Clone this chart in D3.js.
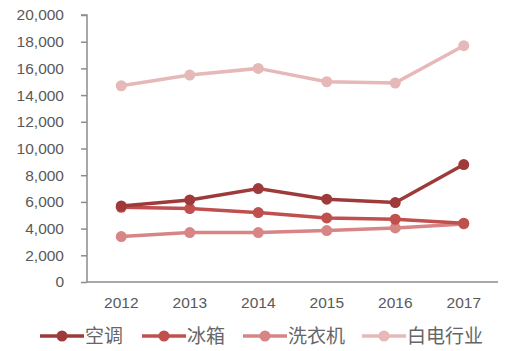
<!DOCTYPE html>
<html>
<head>
<meta charset="utf-8">
<style>
  body { margin: 0; background: #fff; }
  svg { display: block; font-family: "DejaVu Sans", sans-serif; }
  .axis text { fill: #595959; font-size: 15.5px; }
  .axis path, .axis line { stroke: #8c8c8c; stroke-width: 1.5; }
  .legend text { fill: #666; font-size: 19px; font-family: "Noto Sans CJK SC", sans-serif; }
</style>
</head>
<body>
<svg width="520" height="351"></svg>
<script src="https://d3js.org/d3.v7.min.js"></script>
<script>
const years = ["2012", "2013", "2014", "2015", "2016", "2017"];
const seriesNames = ["空调", "冰箱", "洗衣机", "白电行业"];
const airCon = [5700, 6150, 7000, 6200, 5950, 8800];
const fridge = [5600, 5500, 5200, 4800, 4700, 4400];
const washer = [3400, 3700, 3700, 3850, 4050, 4350];
const whiteGoods = [14700, 15500, 16000, 15000, 14900, 17700];
const yTicks = [0, 2000, 4000, 6000, 8000, 10000, 12000, 14000, 16000, 18000, 20000];
const colors = ["#9e3a3a", "#c0504d", "#d78585", "#e6b8b7"];

const allValues = [airCon, fridge, washer, whiteGoods];
const svg = d3.select("svg");
const margin = { top: 15, right: 22, bottom: 69, left: 87 };
const width = 520, height = 351;

const x = d3.scaleBand().domain(years).range([margin.left, width - margin.right]);
const y = d3.scaleLinear().domain([0, 20000]).range([height - margin.bottom, margin.top]);

svg.append("g")
  .attr("class", "axis")
  .attr("transform", `translate(${margin.left},0)`)
  .call(d3.axisLeft(y).tickValues(yTicks).tickSize(6).tickPadding(17).tickFormat(d3.format(",")))
  .call(g => g.select(".domain").attr("d", `M-6,${y(20000)}H0V${y(0)}`));

svg.append("g")
  .attr("class", "axis")
  .attr("transform", `translate(0,${y(0)})`)
  .call(d3.axisBottom(x).tickSize(0).tickPadding(15))
  .call(g => g.select(".domain").attr("d", `M${margin.left},0H${width - margin.right}`));

const line = d3.line()
  .x((d, i) => x(years[i]) + x.bandwidth() / 2)
  .y(d => y(d));

// draw lighter series first so darker ones sit on top
[3, 2, 1, 0].forEach(k => {
  const g = svg.append("g");
  g.append("path")
    .datum(allValues[k])
    .attr("fill", "none")
    .attr("stroke", colors[k])
    .attr("stroke-width", 3.5)
    .attr("d", line);
  g.selectAll("circle")
    .data(allValues[k])
    .join("circle")
    .attr("cx", (d, i) => x(years[i]) + x.bandwidth() / 2)
    .attr("cy", d => y(d))
    .attr("r", 5.5)
    .attr("fill", colors[k]);
});

// legend
const legendX = [40, 142, 243, 362];
const legend = svg.append("g").attr("class", "legend");
seriesNames.forEach((name, k) => {
  const lx = legendX[k], ly = 336;
  legend.append("line")
    .attr("x1", lx).attr("x2", lx + 44)
    .attr("y1", ly).attr("y2", ly)
    .attr("stroke", colors[k]).attr("stroke-width", 3.5);
  legend.append("circle")
    .attr("cx", lx + 22).attr("cy", ly).attr("r", 5.5)
    .attr("fill", colors[k]);
  legend.append("text")
    .attr("x", lx + 45).attr("y", ly + 7)
    .text(name);
});
</script>
</body>
</html>
